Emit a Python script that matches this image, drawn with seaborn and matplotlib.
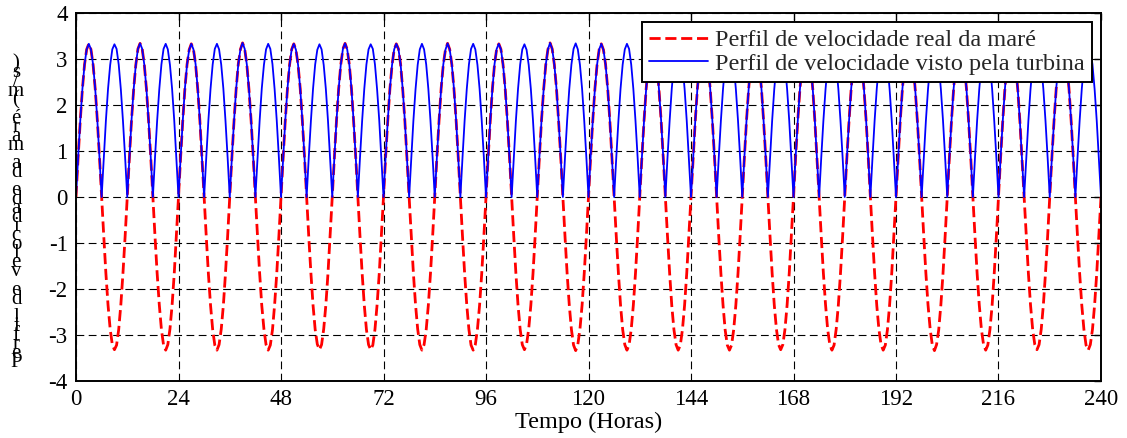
import numpy as np
import pandas as pd
import matplotlib
matplotlib.use("Agg")
import matplotlib.pyplot as plt
import seaborn as sns

# Tidal current speed (m/s), sampled every half hour over 240 h.
# Each row covers 6 h (flood rows positive, ebb rows negative).
tide_speed = [
    0.00, 0.86, 1.66, 2.35, 2.88, 3.21, 3.33, 3.21, 2.88, 2.35, 1.66, 0.86,
    0.00, -0.85, -1.66, -2.35, -2.87, -3.21, -3.32, -3.22, -2.88, -2.34, -1.65, -0.86,
    0.00, 0.85, 1.67, 2.34, 2.87, 3.22, 3.34, 3.22, 2.87, 2.34, 1.65, 0.87,
    0.00, -0.86, -1.66, -2.34, -2.88, -3.22, -3.33, -3.21, -2.87, -2.35, -1.67, -0.85,
    0.00, 0.87, 1.66, 2.36, 2.88, 3.20, 3.33, 3.21, 2.89, 2.35, 1.67, 0.85,
    0.00, -0.86, -1.67, -2.35, -2.88, -3.22, -3.33, -3.21, -2.88, -2.36, -1.66, -0.86,
    0.00, 0.86, 1.65, 2.35, 2.89, 3.21, 3.35, 3.22, 2.88, 2.34, 1.66, 0.86,
    0.00, -0.85, -1.66, -2.36, -2.87, -3.21, -3.33, -3.22, -2.89, -2.35, -1.67, -0.86,
    0.00, 0.85, 1.66, 2.34, 2.87, 3.21, 3.33, 3.20, 2.87, 2.36, 1.66, 0.87,
    0.00, -0.86, -1.65, -2.35, -2.88, -3.20, -3.32, -3.21, -2.87, -2.35, -1.66, -0.85,
    0.00, 0.86, 1.67, 2.35, 2.88, 3.22, 3.34, 3.21, 2.88, 2.35, 1.65, 0.86,
    0.00, -0.86, -1.66, -2.35, -2.88, -3.21, -3.32, -3.22, -2.88, -2.34, -1.67, -0.85,
    0.00, 0.87, 1.66, 2.35, 2.87, 3.21, 3.33, 3.22, 2.89, 2.34, 1.66, 0.85,
    0.00, -0.85, -1.66, -2.34, -2.87, -3.21, -3.33, -3.21, -2.88, -2.35, -1.66, -0.86,
    0.00, 0.86, 1.65, 2.36, 2.88, 3.20, 3.34, 3.21, 2.88, 2.35, 1.67, 0.86,
    0.00, -0.86, -1.67, -2.35, -2.88, -3.22, -3.33, -3.21, -2.87, -2.35, -1.66, -0.86,
    0.00, 0.85, 1.66, 2.35, 2.89, 3.22, 3.33, 3.21, 2.87, 2.35, 1.66, 0.87,
    0.00, -0.85, -1.66, -2.35, -2.88, -3.21, -3.32, -3.20, -2.87, -2.35, -1.67, -0.86,
    0.00, 0.86, 1.67, 2.34, 2.88, 3.21, 3.35, 3.22, 2.88, 2.36, 1.65, 0.86,
    0.00, -0.86, -1.67, -2.35, -2.88, -3.22, -3.34, -3.21, -2.87, -2.35, -1.66, -0.86,
    0.00, 0.87, 1.66, 2.35, 2.87, 3.21, 3.33, 3.20, 2.88, 2.35, 1.66, 0.85,
    0.00, -0.85, -1.65, -2.35, -2.88, -3.21, -3.33, -3.22, -2.88, -2.35, -1.66, -0.86,
    0.00, 0.86, 1.65, 2.35, 2.88, 3.22, 3.34, 3.21, 2.89, 2.34, 1.67, 0.86,
    0.00, -0.86, -1.66, -2.36, -2.88, -3.21, -3.33, -3.22, -2.88, -2.35, -1.66, -0.85,
    0.00, 0.85, 1.66, 2.36, 2.88, 3.21, 3.33, 3.22, 2.88, 2.35, 1.66, 0.87,
    0.00, -0.86, -1.66, -2.35, -2.89, -3.22, -3.33, -3.22, -2.88, -2.35, -1.67, -0.86,
    0.00, 0.86, 1.67, 2.35, 2.89, 3.20, 3.34, 3.21, 2.87, 2.35, 1.65, 0.86,
    0.00, -0.85, -1.66, -2.35, -2.87, -3.21, -3.32, -3.21, -2.88, -2.35, -1.66, -0.85,
    0.00, 0.87, 1.66, 2.34, 2.88, 3.21, 3.33, 3.21, 2.88, 2.36, 1.66, 0.85,
    0.00, -0.86, -1.66, -2.34, -2.88, -3.21, -3.33, -3.22, -2.87, -2.35, -1.66, -0.86,
    0.00, 0.86, 1.65, 2.35, 2.87, 3.22, 3.35, 3.22, 2.88, 2.35, 1.67, 0.86,
    0.00, -0.86, -1.67, -2.36, -2.88, -3.21, -3.33, -3.22, -2.88, -2.35, -1.66, -0.85,
    0.00, 0.85, 1.66, 2.35, 2.88, 3.21, 3.33, 3.20, 2.89, 2.34, 1.66, 0.87,
    0.00, -0.85, -1.66, -2.35, -2.87, -3.22, -3.34, -3.21, -2.89, -2.35, -1.67, -0.86,
    0.00, 0.86, 1.67, 2.36, 2.88, 3.21, 3.34, 3.21, 2.88, 2.35, 1.65, 0.86,
    0.00, -0.86, -1.67, -2.35, -2.88, -3.21, -3.33, -3.22, -2.88, -2.36, -1.66, -0.86,
    0.00, 0.87, 1.66, 2.35, 2.89, 3.22, 3.33, 3.22, 2.87, 2.35, 1.66, 0.85,
    0.00, -0.85, -1.66, -2.35, -2.88, -3.21, -3.32, -3.21, -2.88, -2.35, -1.66, -0.86,
    0.00, 0.86, 1.65, 2.34, 2.88, 3.21, 3.34, 3.21, 2.88, 2.36, 1.67, 0.86,
    0.00, -0.86, -1.66, -2.35, -2.88, -3.22, -3.33, -3.21, -2.88, -2.35, -1.66, -0.85,
    0.00,
]
hours = np.arange(0, 240.5, 0.5)
x_ticks = [0, 24, 48, 72, 96, 120, 144, 168, 192, 216, 240]
y_ticks = [-4, -3, -2, -1, 0, 1, 2, 3, 4]

label_real = "Perfil de velocidade real da maré"
label_turbine = "Perfil de velocidade visto pela turbina"
x_label = "Tempo (Horas)"
y_label = "Perfil de velocidade da maré (m/s)"

df = pd.DataFrame({"hora": hours, "real": tide_speed})
# The turbine only sees the magnitude of the current
df["turbina"] = df["real"].abs()

sns.set_theme(style="white")
plt.rcParams["font.family"] = ["Liberation Serif", "DejaVu Serif"]
plt.rcParams["axes.unicode_minus"] = False

W, H = 1127, 438
fig = plt.figure(figsize=(W / 100, H / 100), dpi=100)
ax = fig.add_axes([76 / W, (H - 381) / H, (1101 - 76) / W, (381 - 13) / H])

sns.lineplot(data=df, x="hora", y="real", ax=ax, color="#ff0000", lw=2.0,
             label=label_real, sort=False)
ax.lines[-1].set_dashes((4, 1.7))
sns.lineplot(data=df, x="hora", y="turbina", ax=ax, color="#0000ff", lw=1.3,
             label=label_turbine, sort=False)

ax.set_xlim(0, 240)
ax.set_ylim(-4, 4)
ax.set_xticks(x_ticks)
ax.set_yticks(y_ticks)
ax.grid(True, color="black", lw=0.8, linestyle=(0, (7, 4)))
ax.set_axisbelow(True)
for s in ax.spines.values():
    s.set_color("black")
    s.set_linewidth(1.4)
ax.tick_params(direction="in", top=True, right=True, length=5, width=1,
               labelsize=16.5, pad=6, colors="black")

ax.set_xlabel(x_label, fontsize=17.5, labelpad=1, color="black")
ax.set_ylabel("")

# Vertical label: characters stacked upright, first letter at the bottom
base_y = 367
step = 9.05
for i, ch in enumerate(y_label):
    fig.text(16 / W, (H - (base_y - i * step)) / H, ch, ha="center",
             va="baseline", fontsize=15, color="black")

leg = ax.legend(loc="upper right", fontsize=17.5, frameon=True, fancybox=False,
                shadow=False, framealpha=1, edgecolor="black",
                borderpad=0.32, labelspacing=0.05, handlelength=2.4,
                handletextpad=0.3, borderaxespad=0.35)
leg.get_frame().set_linewidth(1.4)

fig.savefig("out.png", dpi=100)
